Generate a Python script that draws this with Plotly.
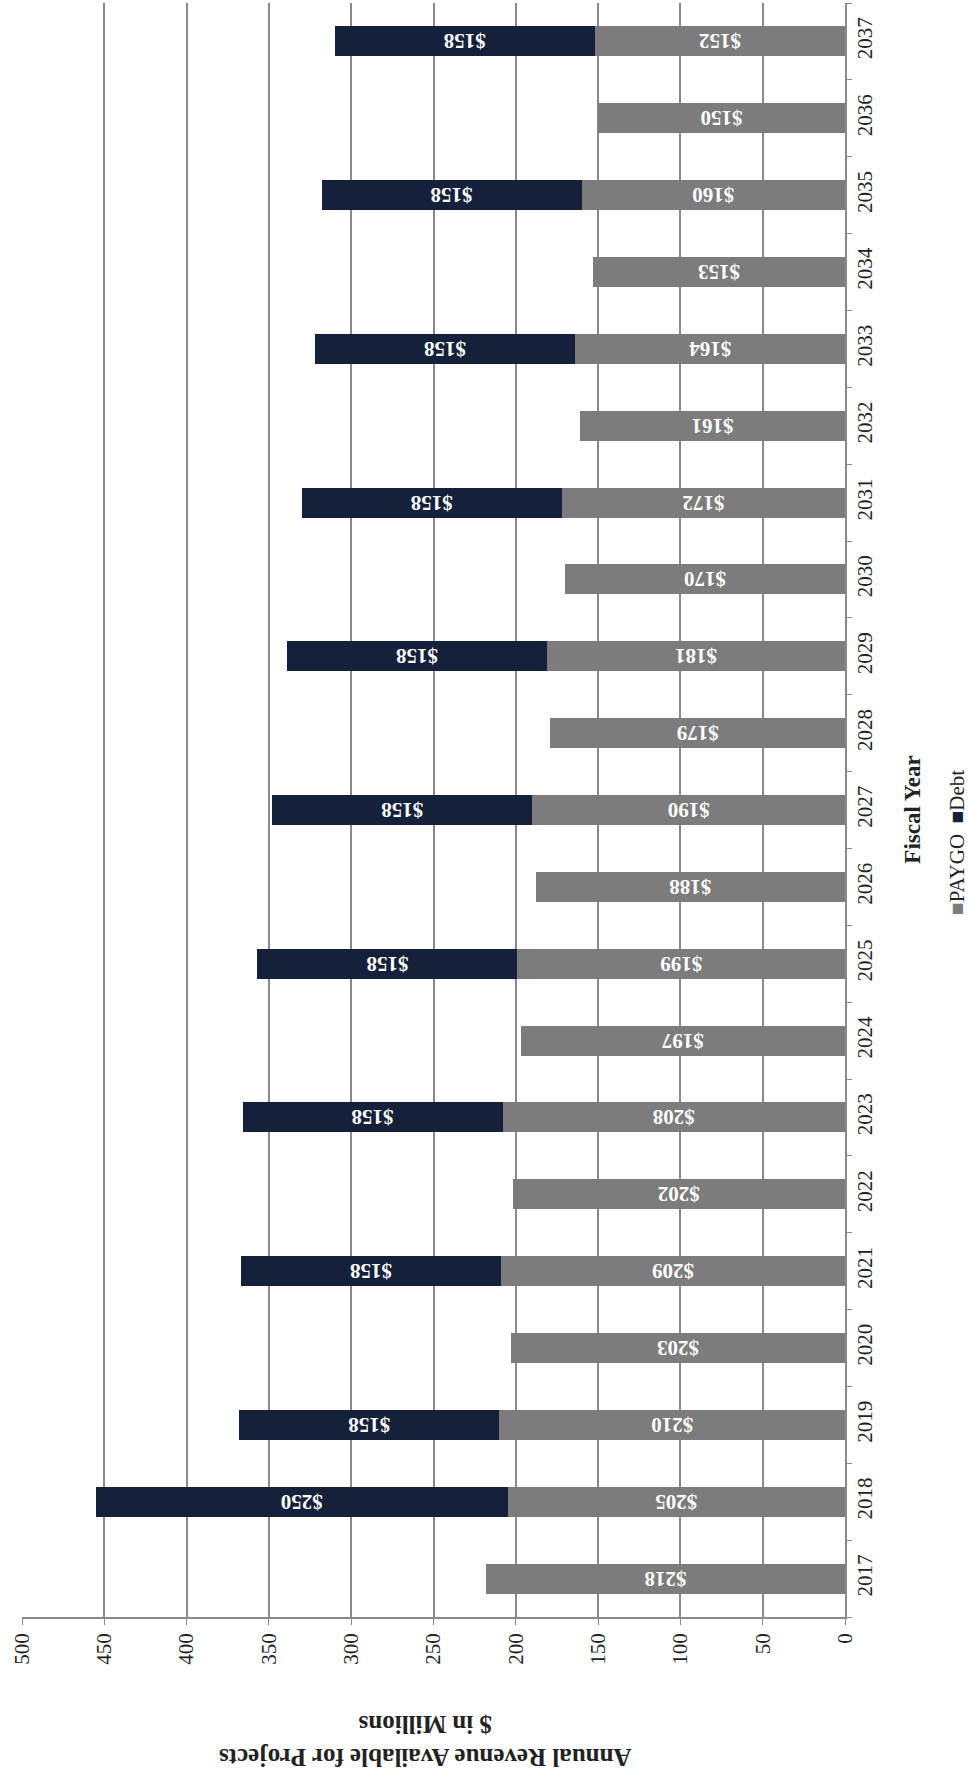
import plotly.graph_objects as go

# Fiscal years and revenue available for projects ($ in millions)
years = [str(y) for y in range(2017, 2038)]
paygo = [218, 205, 210, 203, 209, 202, 208, 197, 199, 188, 190,
         179, 181, 170, 172, 161, 164, 153, 160, 150, 152]
debt = [None, 250, 158, None, 158, None, 158, None, 158, None, 158,
        None, 158, None, 158, None, 158, None, 158, None, 158]
value_ticks = list(range(0, 501, 50))

PAYGO_COLOR = "#7c7c7c"
DEBT_COLOR = "#15213a"
SERIF = "Liberation Serif"

fig = go.Figure()
fig.add_trace(go.Bar(
    y=years, x=paygo, orientation="h", name="PAYGO",
    marker=dict(color=PAYGO_COLOR, line=dict(width=0)),
    width=0.39,
    text=[f"<b>${v}</b>" for v in paygo],
    textposition="inside", insidetextanchor="middle", textangle=180,
    textfont=dict(family=SERIF, size=21, color="white"),
))
fig.add_trace(go.Bar(
    y=years, x=debt, orientation="h", name="Debt",
    marker=dict(color=DEBT_COLOR, line=dict(width=0)),
    width=0.39,
    text=[f"<b>${v}</b>" if v is not None else "" for v in debt],
    textposition="inside", insidetextanchor="middle", textangle=180,
    textfont=dict(family=SERIF, size=21, color="white"),
))

fig.update_layout(
    width=968, height=1773,
    barmode="stack",
    showlegend=False,
    plot_bgcolor="white", paper_bgcolor="white",
    margin=dict(l=22, r=123, t=3, b=156),
    font=dict(family=SERIF, size=21, color="#222222"),
    uniformtext=dict(minsize=21, mode="show"),
    xaxis=dict(
        range=[500, 0],
        tickvals=value_ticks,
        tickangle=-90,
        showgrid=True, gridcolor="#8a8a8a", gridwidth=1.5,
        zeroline=False,
        showline=True, linecolor="#8a8a8a", linewidth=1.5,
        ticks="outside", ticklen=6, tickcolor="#8a8a8a",
        tickfont=dict(family=SERIF, size=21, color="#222222"),
    ),
    yaxis=dict(
        type="category",
        categoryorder="array", categoryarray=years,
        range=[-0.5, 20.5],
        side="right",
        tickangle=-90,
        showgrid=False,
        showline=True, linecolor="#8a8a8a", linewidth=1.5,
        ticks="outside", ticklen=5, tickcolor="#8a8a8a",
        tickson="boundaries",
        tickfont=dict(family=SERIF, size=21, color="#222222"),
    ),
    annotations=[
        dict(
            text="<b>Annual Revenue Available for Projects<br>$ in Millions</b>",
            xref="paper", yref="paper", x=0.49, y=-0.0765,
            xanchor="center", yanchor="middle",
            textangle=180, showarrow=False,
            font=dict(family=SERIF, size=25, color="#222222"),
        ),
        dict(
            text="<b>Fiscal Year</b>",
            xref="paper", yref="paper", x=1.081, y=0.5,
            xanchor="center", yanchor="middle",
            textangle=-90, showarrow=False,
            font=dict(family=SERIF, size=23, color="#222222"),
        ),
        dict(
            text=(f"<span style='color:{PAYGO_COLOR}'>■</span>PAYGO  "
                  f"<span style='color:{DEBT_COLOR}'>■</span>Debt"),
            xref="paper", yref="paper", x=1.137, y=0.48,
            xanchor="center", yanchor="middle",
            textangle=-90, showarrow=False,
            font=dict(family=SERIF, size=21, color="#222222"),
        ),
    ],
)

fig.write_html("out.html")
